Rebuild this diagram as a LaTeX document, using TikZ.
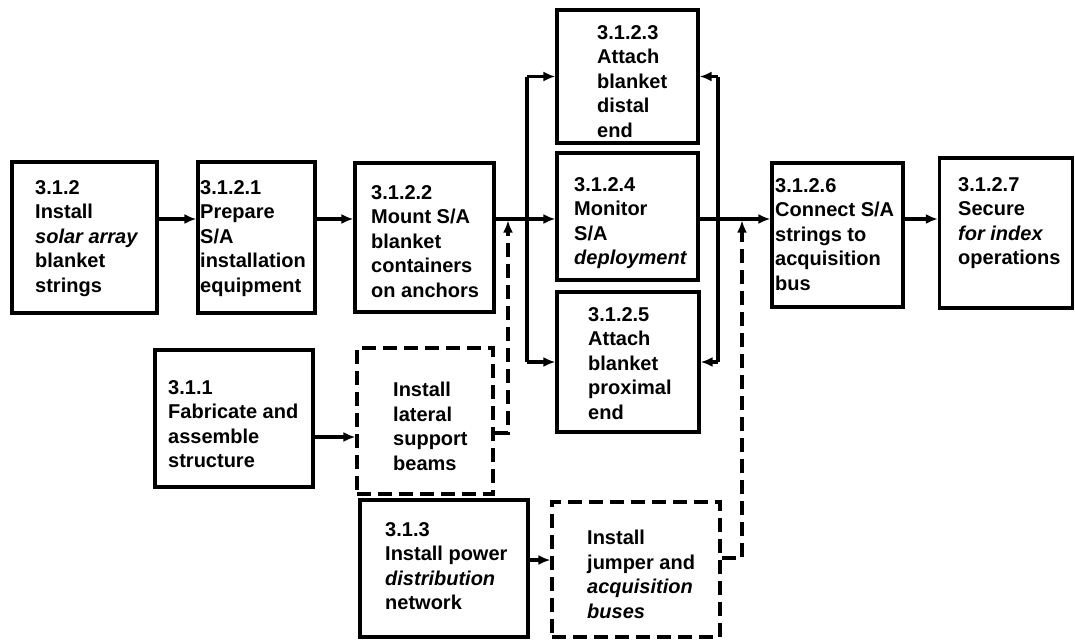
\documentclass[tikz,border=0pt]{standalone}
\usepackage{fontspec}
\setmainfont{Liberation Sans}
\usetikzlibrary{arrows.meta}
\begin{document}
\begin{tikzpicture}[x=1pt,y=-1pt,
  box/.style={draw, line width=3.2pt, inner sep=0pt},
  dbox/.style={box, dash pattern=on 14pt off 7pt},
  txt/.style={anchor=north west, inner sep=0pt, align=left, font=\fontsize{20}{24.5}\selectfont\bfseries},
  flow/.style={line width=3.2pt, -{Latex[length=12pt,width=10pt]}},
  dflow/.style={flow, dash pattern=on 14pt off 7pt},
  link/.style={line width=3.2pt}]
\useasboundingbox (0,0) rectangle (1075,641);
% boxes
\node[box, minimum width=145pt, minimum height=151pt] (b312)  at (84.5,237.5) {};
\node[box, minimum width=117pt, minimum height=151pt] (b3121) at (256.5,237.5) {};
\node[box, minimum width=139pt, minimum height=149pt] (b3122) at (424.5,237.5) {};
\node[box, minimum width=141pt, minimum height=133pt] (b3123) at (627.5,76.5) {};
\node[box, minimum width=141pt, minimum height=127pt] (b3124) at (627.5,216.5) {};
\node[box, minimum width=142pt, minimum height=140pt] (b3125) at (628,362) {};
\node[box, minimum width=131pt, minimum height=144pt] (b3126) at (837.5,235) {};
\node[box, minimum width=133pt, minimum height=150pt] (b3127) at (1006,233) {};
\node[box, minimum width=158pt, minimum height=137pt] (b311)  at (234,418.5) {};
\node[dbox, minimum width=136pt, minimum height=146pt] (lat)  at (425,421) {};
\node[box, minimum width=168pt, minimum height=137pt] (b313)  at (444,568.5) {};
\node[dbox, minimum width=168pt, minimum height=135pt] (jmp)  at (636,569.5) {};
% texts
\node[txt] (t312)  at (35,180)  {3.1.2\\Install\\\textit{solar array}\\blanket\\strings};
\node[txt] (t3121) at (200,180) {3.1.2.1\\Prepare\\S/A\\installation\\equipment};
\node[txt] (t3122) at (371,185) {3.1.2.2\\Mount S/A\\blanket\\containers\\on anchors};
\node[txt] (t3123) at (597,25)  {3.1.2.3\\Attach\\blanket\\distal\\end};
\node[txt] (t3124) at (574,177) {3.1.2.4\\Monitor\\S/A\\\textit{deployment}};
\node[txt] (t3125) at (588,307) {3.1.2.5\\Attach\\blanket\\proximal\\end};
\node[txt] (t3126) at (775,178) {3.1.2.6\\Connect S/A\\strings to\\acquisition\\bus};
\node[txt] (t3127) at (958,177) {3.1.2.7\\Secure\\\textit{for index}\\operations};
\node[txt] (t311)  at (168,380) {3.1.1\\Fabricate and\\assemble\\structure};
\node[txt] (tlat)  at (393,382) {Install\\lateral\\support\\beams};
\node[txt] (t313)  at (385,522) {3.1.3\\Install power\\\textit{distribution}\\network};
\node[txt] (tjmp)  at (587,530) {Install\\jumper and\\\textit{acquisition}\\\textit{buses}};
% helper coordinates
\coordinate (ya) at (0,219);
\coordinate (yc) at (0,437);
\coordinate (yd) at (0,560);
\coordinate (sl) at (527,0);
\coordinate (sr) at (718,0);
\coordinate (dl) at (508,433);
\coordinate (dr) at (742,558);
% connectors
\draw[flow] (b312.east |- ya) -- (b3121.west |- ya);
\draw[flow] (b3121.east |- ya) -- (b3122.west |- ya);
\draw[flow] (b3122.east |- ya) -- (b3124.west |- ya);
\draw[link] (b3123.west -| sl) -- (b3125.west -| sl);
\draw[flow] (b3123.west -| sl) -- (b3123.west);
\draw[flow] (b3125.west -| sl) -- (b3125.west);
\draw[link] (b3123.east -| sr) -- (b3125.east -| sr);
\draw[flow] (b3123.east -| sr) -- (b3123.east);
\draw[flow] (b3125.east -| sr) -- (b3125.east);
\draw[flow] (b3124.east |- ya) -- (b3126.west |- ya);
\draw[flow] (b3126.east |- ya) -- (b3127.west |- ya);
\draw[flow] (b311.east |- yc) -- (lat.west |- yc);
\draw[flow] (b313.east |- yd) -- (jmp.west |- yd);
\draw[dflow] (lat.east |- dl) -- (dl) -- ([yshift=-1.5pt]dl |- ya);
\draw[dflow] (jmp.east |- dr) -- (dr) -- ([yshift=-1.5pt]dr |- ya);
\end{tikzpicture}
\end{document}
